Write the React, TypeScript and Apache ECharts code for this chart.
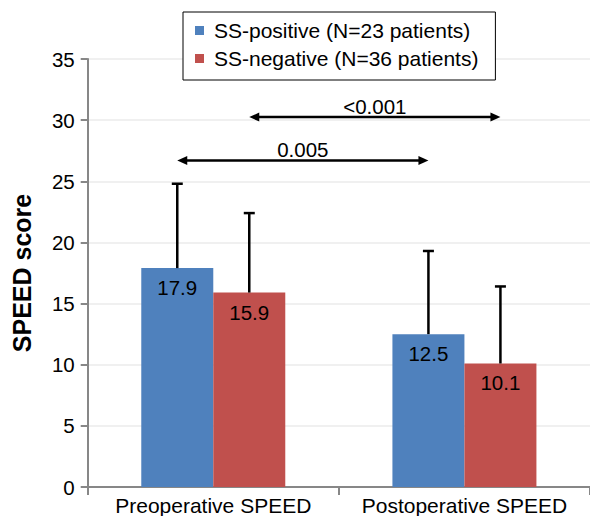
import React, { useEffect, useRef } from "react";
import * as echarts from "echarts";

const categories = ["Preoperative SPEED", "Postoperative SPEED"];
const seriesNames = ["SS-positive (N=23 patients)", "SS-negative (N=36 patients)"];
const ssPositive = [17.9, 12.5];
const ssNegative = [15.9, 10.1];
const ssPositiveUpper = [24.8, 19.3];
const ssNegativeUpper = [22.4, 16.4];
const pValueLabels = ["0.005", "<0.001"];
const comparisonLevels = [26.7, 30.25];
const comparisonSeries = [0, 1];
const yMin = 0;
const yMax = 35;
const yInterval = 5;

const FONT = "'Liberation Sans', Arial, sans-serif";
const BAR_WIDTH = 72;
const COLORS = ["#4F81BD", "#C0504D"];

function errorBarSeries(values: number[], upper: number[], idx: number) {
  const offset = (idx - 0.5) * BAR_WIDTH;
  return {
    type: "custom",
    silent: true,
    z: 5,
    encode: { x: 0, y: [1, 2] },
    data: categories.map((_, i) => [i, values[i], upper[i]]),
    renderItem: (params: any, api: any) => {
      const base = api.coord([api.value(0), api.value(1)]);
      const top = api.coord([api.value(0), api.value(2)]);
      const x = base[0] + offset;
      const style = { stroke: "#000", lineWidth: 2.5 };
      return {
        type: "group",
        children: [
          { type: "line", shape: { x1: x, y1: base[1], x2: x, y2: top[1] }, style },
          { type: "line", shape: { x1: x - 5.5, y1: top[1], x2: x + 5.5, y2: top[1] }, style },
        ],
      };
    },
  };
}

export default function App() {
  const ref = useRef<HTMLDivElement>(null);
  useEffect(() => {
    document.body.style.margin = "0";
    const chart = echarts.init(ref.current!, null, { renderer: "svg" });
    const arrowData = pValueLabels.map((_, i) => [0, 1, comparisonLevels[i], comparisonSeries[i]]);
    chart.setOption({
      animation: false,
      backgroundColor: "#fff",
      textStyle: { fontFamily: FONT },
      legend: {
        data: seriesNames,
        orient: "vertical",
        left: 183,
        top: 12,
        padding: [8, 17, 11, 12],
        itemGap: 7,
        itemWidth: 9,
        itemHeight: 9,
        icon: "rect",
        backgroundColor: "#fff",
        borderColor: "#000",
        borderWidth: 1,
        borderRadius: 0,
        selectedMode: false,
        formatter: (name: string) => "{s|}{t|" + name + "}",
        textStyle: {
          fontSize: 21,
          color: "#000",
          fontFamily: FONT,
          rich: {
            s: { width: 5, fontSize: 21 },
            t: { fontSize: 21, color: "#000", fontFamily: FONT },
          },
        },
      },
      grid: { left: 87.7, right: -2.6, top: 59, bottom: 27.3, containLabel: false },
      xAxis: {
        type: "category",
        data: categories,
        axisLine: { lineStyle: { color: "#878787", width: 2 } },
        axisTick: { show: true, length: 8, lineStyle: { color: "#878787", width: 2 } },
        axisLabel: { fontSize: 21, color: "#000", margin: 8, fontFamily: FONT, interval: 0, hideOverlap: false },
        splitLine: { show: false },
      },
      yAxis: {
        type: "value",
        min: yMin,
        max: yMax,
        interval: yInterval,
        name: "SPEED score",
        nameLocation: "middle",
        nameGap: 53,
        nameTextStyle: { fontSize: 25, fontWeight: "bold", color: "#000", fontFamily: FONT },
        axisLine: { show: true, lineStyle: { color: "#878787", width: 2 } },
        axisTick: { show: true, length: 7, lineStyle: { color: "#878787", width: 2 } },
        axisLabel: { fontSize: 20.5, color: "#000", margin: 13, fontFamily: FONT },
        splitLine: { show: true, lineStyle: { color: "#EBEBEB", width: 1.5 } },
      },
      series: [
        {
          name: seriesNames[0],
          type: "bar",
          data: ssPositive,
          barWidth: BAR_WIDTH,
          barGap: "0%",
          itemStyle: { color: COLORS[0] },
          label: { show: true, position: "insideTop", distance: 9, fontSize: 20.5, color: "#000", fontFamily: FONT, formatter: (p: any) => p.value.toFixed(1) },
        },
        {
          name: seriesNames[1],
          type: "bar",
          data: ssNegative,
          barWidth: BAR_WIDTH,
          barGap: "0%",
          itemStyle: { color: COLORS[1] },
          label: { show: true, position: "insideTop", distance: 9, fontSize: 20.5, color: "#000", fontFamily: FONT, formatter: (p: any) => p.value.toFixed(1) },
        },
        errorBarSeries(ssPositive, ssPositiveUpper, 0),
        errorBarSeries(ssNegative, ssNegativeUpper, 1),
        {
          type: "custom",
          silent: true,
          z: 6,
          encode: { x: [0, 1], y: 2 },
          data: arrowData,
          renderItem: (params: any, api: any) => {
            const off = (api.value(3) - 0.5) * BAR_WIDTH;
            const p1 = api.coord([api.value(0), api.value(2)]);
            const p2 = api.coord([api.value(1), api.value(2)]);
            const x1 = p1[0] + off;
            const x2 = p2[0] + off;
            const y = p1[1];
            const head = 10;
            const hh = 4.5;
            return {
              type: "group",
              children: [
                { type: "line", shape: { x1: x1 + head - 1, y1: y, x2: x2 - head + 1, y2: y }, style: { stroke: "#000", lineWidth: 2.5 } },
                { type: "polygon", shape: { points: [[x1, y], [x1 + head, y - hh], [x1 + head, y + hh]] }, style: { fill: "#000" } },
                { type: "polygon", shape: { points: [[x2, y], [x2 - head, y - hh], [x2 - head, y + hh]] }, style: { fill: "#000" } },
                {
                  type: "text",
                  x: (x1 + x2) / 2,
                  y: y - 11,
                  style: { text: pValueLabels[params.dataIndex], fontSize: 20.5, fill: "#000", fontFamily: FONT, align: "center", verticalAlign: "middle" },
                },
              ],
            };
          },
        },
      ],
    });
    return () => chart.dispose();
  }, []);
  return <div ref={ref} style={{ width: 590, height: 516 }} />;
}
